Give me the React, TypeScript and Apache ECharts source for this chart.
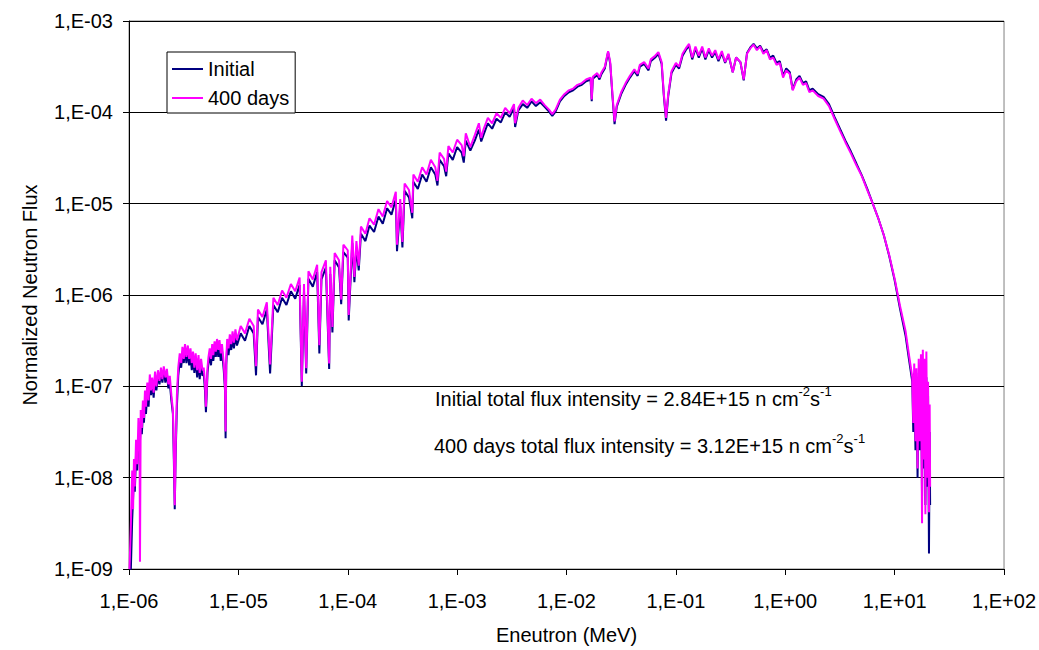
import React, { useEffect, useRef } from "react";
import * as echarts from "echarts";

const seriesNames = ["Initial", "400 days"];
const seriesColors = ["#000080", "#FF00FF"];
const xTickLabels = ["1,E-06", "1,E-05", "1,E-04", "1,E-03", "1,E-02", "1,E-01", "1,E+00", "1,E+01", "1,E+02"];
const yTickLabels = ["1,E-09", "1,E-08", "1,E-07", "1,E-06", "1,E-05", "1,E-04", "1,E-03"];
const xTitle = "Eneutron (MeV)";
const yTitle = "Normalized Neutron Flux";

const energyMeV = [
  1.01e-6, 1.04e-6, 1.07e-6, 1.09e-6, 1.11e-6, 1.13e-6, 1.16e-6, 1.19e-6, 1.22e-6, 1.25e-6,
  1.26e-6, 1.28e-6, 1.31e-6, 1.34e-6, 1.37e-6, 1.40e-6, 1.43e-6, 1.47e-6, 1.51e-6, 1.55e-6,
  1.59e-6, 1.63e-6, 1.68e-6, 1.73e-6, 1.78e-6, 1.84e-6, 1.90e-6, 1.96e-6, 2.02e-6, 2.08e-6,
  2.15e-6, 2.22e-6, 2.29e-6, 2.36e-6, 2.44e-6, 2.52e-6, 2.57e-6, 2.62e-6, 2.67e-6, 2.74e-6,
  2.82e-6, 2.91e-6, 3.00e-6, 3.08e-6, 3.17e-6, 3.25e-6, 3.35e-6, 3.45e-6, 3.55e-6, 3.65e-6,
  3.75e-6, 3.85e-6, 3.96e-6, 4.07e-6, 4.20e-6, 4.32e-6, 4.43e-6, 4.56e-6, 4.70e-6, 4.82e-6,
  4.95e-6, 5.05e-6, 5.13e-6, 5.22e-6, 5.33e-6, 5.47e-6, 5.62e-6, 5.76e-6, 5.90e-6, 6.06e-6,
  6.22e-6, 6.38e-6, 6.55e-6, 6.72e-6, 6.90e-6, 7.08e-6, 7.35e-6, 7.55e-6, 7.64e-6, 7.75e-6,
  7.90e-6, 8.13e-6, 8.35e-6, 8.60e-6, 8.85e-6, 9.10e-6, 9.40e-6, 9.70e-6,
  1.05e-5, 1.15e-5, 1.26e-5, 1.38e-5, 1.45e-5, 1.51e-5, 1.66e-5, 1.82e-5, 1.95e-5, 2.09e-5,
  2.29e-5, 2.51e-5, 2.75e-5, 3.02e-5, 3.31e-5, 3.63e-5, 3.80e-5, 3.98e-5, 4.17e-5, 4.37e-5,
  4.79e-5, 5.25e-5, 5.50e-5, 5.75e-5, 6.31e-5, 6.76e-5, 6.92e-5, 7.24e-5, 7.59e-5, 8.32e-5,
  8.71e-5, 9.12e-5, 1.00e-4, 1.02e-4, 1.10e-4, 1.15e-4, 1.20e-4, 1.26e-4, 1.32e-4, 1.45e-4,
  1.58e-4, 1.74e-4, 1.91e-4, 2.09e-4, 2.29e-4, 2.51e-4, 2.75e-4, 2.82e-4, 3.02e-4, 3.16e-4,
  3.31e-4, 3.63e-4, 3.89e-4, 3.98e-4, 4.37e-4, 4.79e-4, 5.25e-4, 5.75e-4, 6.31e-4, 6.61e-4,
  6.92e-4, 7.59e-4, 7.94e-4, 8.32e-4, 9.12e-4, 1.00e-3, 1.10e-3, 1.15e-3, 1.20e-3, 1.32e-3,
  1.45e-3, 1.58e-3, 1.66e-3, 1.74e-3, 1.91e-3, 2.09e-3, 2.29e-3, 2.51e-3, 2.75e-3, 3.02e-3,
  3.31e-3, 3.39e-3, 3.63e-3, 3.98e-3, 4.37e-3, 4.79e-3, 5.25e-3, 5.75e-3, 6.31e-3, 6.92e-3,
  7.41e-3, 7.94e-3, 8.71e-3, 9.55e-3,
  1.05e-2, 1.15e-2, 1.26e-2, 1.38e-2, 1.51e-2, 1.66e-2, 1.70e-2, 1.74e-2, 1.91e-2, 2.00e-2,
  2.09e-2, 2.24e-2, 2.40e-2, 2.51e-2, 2.63e-2, 2.75e-2, 2.88e-2, 3.16e-2, 3.47e-2, 3.80e-2,
  4.17e-2, 4.47e-2, 4.68e-2, 5.13e-2, 5.62e-2, 5.89e-2, 6.46e-2, 6.92e-2, 7.41e-2, 7.76e-2,
  8.13e-2, 8.51e-2, 9.12e-2, 1.00e-1, 1.07e-1, 1.15e-1, 1.23e-1, 1.32e-1, 1.41e-1, 1.51e-1,
  1.62e-1, 1.74e-1, 1.86e-1, 2.00e-1, 2.14e-1, 2.29e-1, 2.45e-1, 2.63e-1, 2.82e-1, 3.02e-1,
  3.31e-1, 3.55e-1, 3.89e-1, 4.17e-1, 4.47e-1, 4.79e-1, 5.13e-1, 5.50e-1, 5.89e-1, 6.31e-1,
  6.76e-1, 7.24e-1, 7.76e-1, 8.32e-1, 8.91e-1, 9.55e-1, 1.02, 1.10, 1.17, 1.26,
  1.35, 1.45, 1.55, 1.66, 1.78, 2.00, 2.24, 2.51, 2.82, 3.16,
  3.55, 3.98, 4.47, 5.01, 5.62, 6.31, 7.08, 7.94, 8.91, 10.0,
  11.2, 12.6, 13.5, 14.5, 14.8, 15.1, 15.5, 15.8, 16.2, 16.6,
  17.0, 17.4, 17.8, 18.1, 18.5, 18.8, 19.1, 19.5, 19.9, 20.2,
  20.6, 20.9, 21.1,
];

const fluxInitial = [
  1.0e-9, 1.0e-9, 3.5e-9, 6.0e-9, 1.1e-8, 7.0e-9, 1.8e-8, 1.2e-8, 2.8e-8, 2.2e-8,
  2.5e-8, 4.0e-8, 3.0e-8, 5.0e-8, 4.0e-8, 7.0e-8, 5.0e-8, 9.0e-8, 6.0e-8, 1.1e-7,
  8.0e-8, 1.1e-7, 7.5e-8, 1.25e-7, 9.0e-8, 1.3e-7, 1.05e-7, 1.4e-7, 1.1e-7, 1.5e-7,
  1.1e-7, 1.4e-7, 9.5e-8, 1.1e-7, 7.0e-8, 5.0e-8, 1.6e-8, 4.5e-9, 1.8e-8, 6.0e-8,
  1.3e-7, 1.9e-7, 1.6e-7, 2.3e-7, 1.8e-7, 2.5e-7, 1.8e-7, 2.4e-7, 1.7e-7, 2.2e-7,
  1.5e-7, 2.1e-7, 1.4e-7, 2.0e-7, 1.25e-7, 1.9e-7, 1.2e-7, 1.7e-7, 1.3e-7, 1.4e-7,
  9.0e-8, 5.2e-8, 8.0e-8, 1.4e-7, 1.8e-7, 2.2e-7, 1.7e-7, 2.5e-7, 1.9e-7, 2.6e-7,
  2.1e-7, 2.8e-7, 2.1e-7, 2.7e-7, 1.9e-7, 2.5e-7, 1.5e-7, 9.0e-8, 2.7e-8, 1.7e-7,
  2.8e-7, 2.2e-7, 3.1e-7, 2.5e-7, 3.4e-7, 2.6e-7, 3.6e-7, 2.8e-7,
  3.80e-7, 3.16e-7, 4.57e-7, 3.80e-7, 1.32e-7, 5.75e-7, 4.79e-7, 6.92e-7, 1.38e-7, 7.76e-7,
  6.46e-7, 9.33e-7, 7.76e-7, 1.10e-6, 9.12e-7, 1.29e-6, 1.00e-7, 1.10e-6, 1.38e-7, 1.51e-6,
  1.23e-6, 1.78e-6, 2.29e-7, 1.48e-6, 2.00e-6, 1.55e-7, 1.70e-6, 3.89e-7, 2.40e-6, 2.00e-6,
  7.94e-7, 2.95e-6, 2.57e-6, 5.25e-7, 3.72e-6, 1.38e-6, 3.24e-6, 1.86e-6, 4.68e-6, 3.89e-6,
  5.75e-6, 4.90e-6, 7.24e-6, 6.03e-6, 8.91e-6, 7.59e-6, 1.12e-5, 3.02e-6, 9.33e-6, 3.31e-6,
  1.38e-5, 1.17e-5, 6.92e-6, 1.74e-5, 1.45e-5, 2.09e-5, 1.74e-5, 2.51e-5, 2.09e-5, 1.58e-5,
  3.02e-5, 2.57e-5, 2.00e-5, 3.55e-5, 3.02e-5, 4.17e-5, 3.63e-5, 2.82e-5, 4.90e-5, 3.80e-5,
  4.90e-5, 6.46e-5, 4.79e-5, 5.62e-5, 7.59e-5, 6.61e-5, 8.51e-5, 7.76e-5, 1.00e-4, 8.91e-5,
  1.12e-4, 6.92e-5, 1.05e-4, 1.23e-4, 1.12e-4, 1.32e-4, 1.17e-4, 1.29e-4, 1.15e-4, 1.02e-4,
  9.12e-5, 1.02e-4, 1.32e-4, 1.51e-4,
  1.66e-4, 1.74e-4, 1.91e-4, 2.00e-4, 2.19e-4, 2.29e-4, 1.32e-4, 2.34e-4, 2.57e-4, 2.29e-4,
  2.63e-4, 3.02e-4, 4.57e-4, 3.39e-4, 1.51e-4, 7.41e-5, 1.15e-4, 1.58e-4, 2.00e-4, 2.40e-4,
  2.82e-4, 2.51e-4, 3.16e-4, 3.39e-4, 2.88e-4, 3.63e-4, 3.98e-4, 4.37e-4, 3.39e-4, 1.51e-4,
  8.13e-5, 1.51e-4, 2.69e-4, 3.31e-4, 3.02e-4, 4.17e-4, 4.79e-4, 5.37e-4, 3.80e-4, 5.01e-4,
  3.98e-4, 5.01e-4, 3.80e-4, 4.79e-4, 3.98e-4, 4.57e-4, 3.63e-4, 4.47e-4, 3.47e-4, 4.27e-4,
  2.75e-4, 3.98e-4, 3.55e-4, 2.24e-4, 4.47e-4, 5.13e-4, 5.62e-4, 5.01e-4, 5.37e-4, 4.57e-4,
  4.90e-4, 3.98e-4, 4.17e-4, 3.47e-4, 3.63e-4, 2.51e-4, 3.02e-4, 2.75e-4, 1.78e-4, 2.29e-4,
  2.51e-4, 2.09e-4, 2.19e-4, 1.74e-4, 1.82e-4, 1.58e-4, 1.48e-4, 1.23e-4, 8.91e-5, 6.61e-5,
  4.90e-5, 3.72e-5, 2.75e-5, 2.04e-5, 1.45e-5, 1.00e-5, 6.92e-6, 4.57e-6, 2.69e-6, 1.45e-6,
  7.08e-7, 3.55e-7, 2.00e-7, 1.12e-7, 3.16e-8, 1.41e-7, 2.00e-8, 1.26e-7, 1.00e-8, 1.41e-7,
  2.00e-8, 1.58e-7, 6.31e-9, 1.78e-7, 1.26e-8, 1.41e-7, 5.01e-9, 1.26e-7, 7.94e-9, 7.94e-8,
  1.48e-9, 3.16e-8, 5.01e-9,
];

const flux400Days = [
  1.0e-9, 3.0e-9, 1.2e-8, 4.5e-9, 1.6e-8, 8.0e-9, 2.6e-8, 1.4e-8, 4.5e-8, 2.6e-8,
  1.2e-9, 5.5e-8, 3.5e-8, 7.0e-8, 4.5e-8, 9.0e-8, 6.0e-8, 1.1e-7, 7.0e-8, 1.35e-7,
  9.0e-8, 1.25e-7, 8.5e-8, 1.45e-7, 1.0e-7, 1.5e-7, 1.15e-7, 1.6e-7, 1.2e-7, 1.65e-7,
  1.25e-7, 1.55e-7, 1.05e-7, 1.3e-7, 8.0e-8, 5.5e-8, 2.0e-8, 5.0e-9, 2.0e-8, 8.0e-8,
  1.6e-7, 2.3e-7, 1.8e-7, 2.7e-7, 2.0e-7, 2.9e-7, 2.1e-7, 2.8e-7, 2.0e-7, 2.6e-7,
  1.8e-7, 2.4e-7, 1.6e-7, 2.3e-7, 1.5e-7, 2.2e-7, 1.4e-7, 2.0e-7, 1.5e-7, 1.6e-7,
  1.1e-7, 6.0e-8, 9.0e-8, 1.6e-7, 2.1e-7, 2.6e-7, 2.0e-7, 2.9e-7, 2.2e-7, 3.1e-7,
  2.4e-7, 3.3e-7, 2.5e-7, 3.2e-7, 2.3e-7, 2.9e-7, 1.8e-7, 1.0e-7, 3.2e-8, 2.0e-7,
  3.3e-7, 2.6e-7, 3.7e-7, 2.9e-7, 4.0e-7, 3.0e-7, 4.2e-7, 3.2e-7,
  4.57e-7, 3.80e-7, 5.50e-7, 4.57e-7, 1.66e-7, 6.92e-7, 5.75e-7, 8.32e-7, 1.74e-7, 9.33e-7,
  7.76e-7, 1.12e-6, 9.33e-7, 1.32e-6, 1.10e-6, 1.55e-6, 1.12e-7, 1.32e-6, 1.58e-7, 1.82e-6,
  1.48e-6, 2.14e-6, 2.82e-7, 1.78e-6, 2.40e-6, 1.78e-7, 2.04e-6, 4.47e-7, 2.88e-6, 2.40e-6,
  8.91e-7, 3.55e-6, 3.09e-6, 6.03e-7, 4.47e-6, 1.58e-6, 3.89e-6, 2.09e-6, 5.62e-6, 4.68e-6,
  6.92e-6, 5.89e-6, 8.71e-6, 7.24e-6, 1.07e-5, 9.12e-6, 1.35e-5, 3.55e-6, 1.12e-5, 3.80e-6,
  1.66e-5, 1.41e-5, 7.94e-6, 2.09e-5, 1.74e-5, 2.51e-5, 2.09e-5, 3.02e-5, 2.51e-5, 1.78e-5,
  3.63e-5, 3.09e-5, 2.24e-5, 4.27e-5, 3.63e-5, 5.01e-5, 4.37e-5, 3.31e-5, 5.89e-5, 4.17e-5,
  5.62e-5, 7.59e-5, 5.25e-5, 6.46e-5, 8.71e-5, 7.59e-5, 9.77e-5, 8.71e-5, 1.12e-4, 9.77e-5,
  1.23e-4, 7.59e-5, 1.12e-4, 1.35e-4, 1.20e-4, 1.41e-4, 1.26e-4, 1.38e-4, 1.20e-4, 1.07e-4,
  9.55e-5, 1.07e-4, 1.38e-4, 1.58e-4,
  1.74e-4, 1.82e-4, 2.00e-4, 2.09e-4, 2.29e-4, 2.40e-4, 1.38e-4, 2.45e-4, 2.69e-4, 2.40e-4,
  2.75e-4, 3.16e-4, 4.68e-4, 3.55e-4, 1.58e-4, 7.94e-5, 1.20e-4, 1.66e-4, 2.09e-4, 2.51e-4,
  2.95e-4, 2.63e-4, 3.31e-4, 3.55e-4, 3.02e-4, 3.80e-4, 4.17e-4, 4.57e-4, 3.55e-4, 1.58e-4,
  8.71e-5, 1.58e-4, 2.82e-4, 3.47e-4, 3.16e-4, 4.37e-4, 5.01e-4, 5.62e-4, 3.98e-4, 5.25e-4,
  4.17e-4, 5.25e-4, 3.98e-4, 5.01e-4, 4.17e-4, 4.79e-4, 3.80e-4, 4.68e-4, 3.55e-4, 4.37e-4,
  2.75e-4, 3.98e-4, 3.55e-4, 2.29e-4, 4.37e-4, 5.01e-4, 5.50e-4, 4.79e-4, 5.25e-4, 4.37e-4,
  4.79e-4, 3.80e-4, 3.98e-4, 3.31e-4, 3.47e-4, 2.40e-4, 2.88e-4, 2.63e-4, 1.74e-4, 2.19e-4,
  2.40e-4, 2.00e-4, 2.09e-4, 1.66e-4, 1.74e-4, 1.51e-4, 1.41e-4, 1.17e-4, 8.51e-5, 6.31e-5,
  4.68e-5, 3.55e-5, 2.63e-5, 2.00e-5, 1.41e-5, 1.00e-5, 6.92e-6, 4.57e-6, 2.75e-6, 1.51e-6,
  7.59e-7, 3.98e-7, 2.24e-7, 1.26e-7, 3.98e-8, 1.78e-7, 2.51e-8, 1.58e-7, 1.26e-8, 2.00e-7,
  2.51e-8, 2.24e-7, 3.16e-9, 2.51e-7, 1.58e-8, 2.00e-7, 3.98e-9, 2.40e-7, 1.00e-8, 1.12e-7,
  4.17e-9, 6.31e-8, 7.94e-9,
];

const annotationTexts = [
  { main: "Initial total flux intensity = 2.84E+15 n cm", e1: "-2", unit: "s", e2: "-1" },
  { main: "400 days total flux intensity = 3.12E+15 n cm", e1: "-2", unit: "s", e2: "-1" },
];

const FONT = '"Liberation Sans", Arial, Helvetica, sans-serif';

export default function App() {
  const ref = useRef<HTMLDivElement>(null);

  useEffect(() => {
    if (!ref.current) return;
    document.body.style.margin = "0";
    document.body.style.overflow = "hidden";
    const chart = echarts.init(ref.current, null, { renderer: "svg" });

    const makeFmt = (labels: string[], minExp: number) => (v: number) => {
      const e = Math.round(Math.log10(v));
      return labels[e - minExp] ?? "";
    };

    const toPairs = (ys: number[]) => energyMeV.map((e, i) => [e, ys[i]]);

    const rich = {
      n: { fontSize: 20, fontFamily: FONT, color: "#000", lineHeight: 24, verticalAlign: "bottom" },
      s: { fontSize: 13, fontFamily: FONT, color: "#000", lineHeight: 13, verticalAlign: "top" },
    };

    const annY = [397, 444];
    const annX = [435, 434];

    chart.setOption({
      animation: false,
      textStyle: { fontFamily: FONT },
      grid: {
        left: 129,
        top: 21,
        right: 32,
        bottom: 76,
        show: true,
        borderColor: "#808080",
        borderWidth: 1,
        backgroundColor: "transparent",
      },
      xAxis: {
        type: "log",
        logBase: 10,
        min: 1e-6,
        max: 100,
        splitNumber: 8,
        name: xTitle,
        nameLocation: "middle",
        nameGap: 56,
        nameTextStyle: { fontSize: 20, color: "#000", fontFamily: FONT },
        axisLine: { show: true, onZero: false, lineStyle: { color: "#000", width: 1 } },
        axisTick: { show: true, inside: false, length: 6, lineStyle: { color: "#000" } },
        minorTick: { show: false },
        axisLabel: {
          formatter: makeFmt(xTickLabels, -6),
          fontSize: 20,
          color: "#000",
          fontFamily: FONT,
          margin: 22,
        },
        splitLine: { show: false },
      },
      yAxis: {
        type: "log",
        logBase: 10,
        min: 1e-9,
        max: 1e-3,
        splitNumber: 6,
        name: yTitle,
        nameLocation: "middle",
        nameGap: 89,
        nameRotate: 90,
        nameTextStyle: { fontSize: 20, color: "#000", fontFamily: FONT },
        axisLine: { show: true, onZero: false, lineStyle: { color: "#000", width: 1 } },
        axisTick: { show: true, inside: false, length: 6, lineStyle: { color: "#000" } },
        minorTick: { show: false },
        axisLabel: {
          formatter: makeFmt(yTickLabels, -9),
          fontSize: 20,
          color: "#000",
          fontFamily: FONT,
          margin: 16,
        },
        splitLine: {
          show: true,
          lineStyle: {
            color: ["#000", "#000", "#000", "#000", "#000", "#000", "#808080"],
            width: 1,
          },
        },
      },
      legend: {
        data: seriesNames.map((n) => ({ name: n, icon: "rect" })),
        orient: "vertical",
        left: 167,
        top: 52,
        padding: [7, 6, 5, 5],
        itemGap: 9,
        itemWidth: 31,
        itemHeight: 2,
        backgroundColor: "#fff",
        borderColor: "#000",
        borderWidth: 1,
        borderRadius: 0,
        textStyle: { fontSize: 20, color: "#000", fontFamily: FONT, lineHeight: 20 },
      },
      tooltip: { show: false },
      series: [
        {
          name: seriesNames[0],
          type: "line",
          data: toPairs(fluxInitial),
          symbol: "none",
          showSymbol: false,
          color: seriesColors[0],
          itemStyle: { color: seriesColors[0] },
          lineStyle: { color: seriesColors[0], width: 2 },
          z: 2,
        },
        {
          name: seriesNames[1],
          type: "line",
          data: toPairs(flux400Days),
          symbol: "none",
          showSymbol: false,
          color: seriesColors[1],
          itemStyle: { color: seriesColors[1] },
          lineStyle: { color: seriesColors[1], width: 2 },
          z: 3,
        },
      ],
      graphic: annotationTexts.map((a, i) => ({
        type: "text",
        x: annX[i],
        y: annY[i],
        z: 10,
        style: {
          text: `{n|${a.main}}{s|${a.e1}}{n|${a.unit}}{s|${a.e2}}`,
          rich,
          fill: "#000",
          align: "left",
          verticalAlign: "middle",
        },
      })),
    });

    return () => chart.dispose();
  }, []);

  return (
    <div
      ref={ref}
      style={{ position: "absolute", left: 0, top: 0, width: 1039, height: 650, background: "#fff" }}
    />
  );
}
